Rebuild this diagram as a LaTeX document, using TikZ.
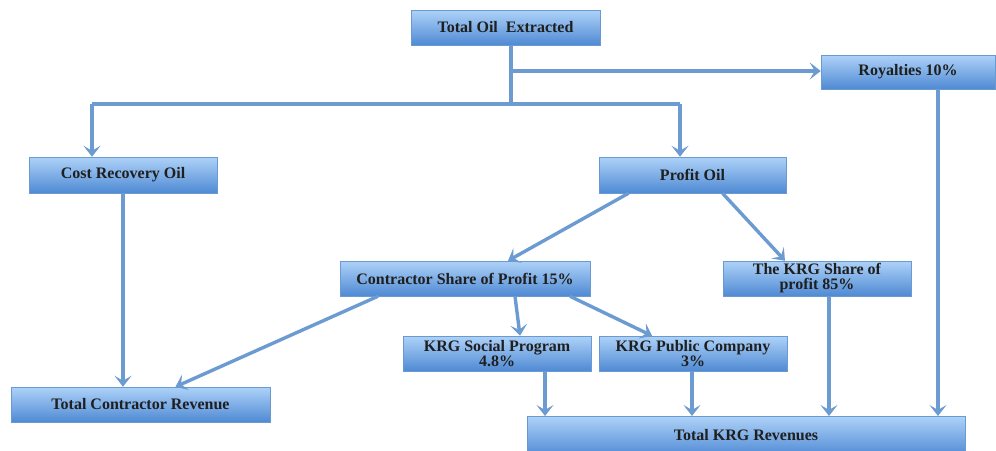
\documentclass[tikz,border=0pt]{standalone}
\usepackage{fontspec}
\setmainfont{Liberation Serif}
\usetikzlibrary{arrows.meta,shadows}
\definecolor{boxtop}{HTML}{AED2F8}
\definecolor{boxbot}{HTML}{4F8AD4}
\definecolor{boxline}{HTML}{6A9AD2}
\definecolor{conn}{HTML}{6B9BD1}
\tikzset{
  boxfont/.style={font=\fontsize{16}{15}\selectfont\bfseries, text=black!88},
  box/.style={draw=boxline, line width=0.5pt, top color=boxtop, bottom color=boxbot,
    drop shadow={shadow xshift=1.2pt, shadow yshift=-1.2pt, opacity=0.35},
    inner sep=0pt, boxfont, align=center},
  conn/.style={draw=conn, line width=3.4pt},
  arr/.style={conn, -{Stealth[length=11pt,width=17pt,inset=5pt]}},
}
\begin{document}
\begin{tikzpicture}[x=1pt,y=-1pt]
\useasboundingbox (0,0) rectangle (996,450);
\clip (0,0) rectangle (996,450);
% boxes
\node[box, minimum width=189pt, minimum height=35pt] (toe) at (505.5,27.5) {Total Oil\ \ Extracted};
\node[box, minimum width=174pt, minimum height=34pt] (roy) at (908,72) {Royalties 10\%};
\node[box, minimum width=188pt, minimum height=36pt] (cro) at (123,175) {Cost Recovery Oil};
\node[box, minimum width=187pt, minimum height=36pt] (po) at (692.5,175) {Profit Oil};
\node[box, minimum width=250pt, minimum height=35pt] (csp) at (465,278.5) {Contractor Share of Profit 15\%};
\node[box, minimum width=188pt, minimum height=35pt] (ksp) at (817,278.5) {The KRG Share of\\profit 85\%};
\node[box, minimum width=188pt, minimum height=35pt] (ksoc) at (497,353.5) {KRG Social Program\\4.8\%};
\node[box, minimum width=188pt, minimum height=35pt] (kpub) at (693,353.5) {KRG Public Company\\3\%};
\node[box, minimum width=259pt, minimum height=35pt] (tcr) at (140.5,404.5) {Total Contractor Revenue};
\node[box, minimum width=438pt, minimum height=40pt, anchor=north west] (tkr) at (527,416) {};
\node[boxfont] (tkrl) at (746,435.5) {Total KRG Revenues};
% connectors from Total Oil
\coordinate (split) at (511,104);
\coordinate (splitL) at (92,104);
\coordinate (splitR) at (680,104);
\coordinate (royj) at (511,71);
\draw[conn] (toe.south -| split) -- (split);
\draw[conn] (splitL) -- (splitR);
\draw[arr] (splitL) -- (splitL |- cro.north);
\draw[arr] (splitR) -- (splitR |- po.north);
\draw[arr] (royj) -- (royj -| roy.west);
% Royalties down
\draw[arr] ([xshift=30pt]roy.south) -- ([xshift=30pt]roy.south |- tkr.north);
% Cost recovery down
\draw[arr] (cro.south) -- (cro.south |- tcr.north);
% Profit Oil split
\draw[arr] ([xshift=-64pt]po.south) -- ([xshift=43pt]csp.north);
\draw[arr] ([xshift=30pt]po.south) -- ([xshift=-32pt]ksp.north);
% Contractor share splits
\draw[arr] ([xshift=-87pt]csp.south) -- ([xshift=35pt]tcr.north);
\draw[arr] ([xshift=50pt]csp.south) -- ([xshift=23pt]ksoc.north);
\draw[arr] ([xshift=105pt]csp.south) -- ([xshift=-41pt]kpub.north);
% down to Total KRG
\draw[arr] ([xshift=48pt]ksoc.south) -- ([xshift=48pt]ksoc.south |- tkr.north);
\draw[arr] ([xshift=-1pt]kpub.south) -- ([xshift=-1pt]kpub.south |- tkr.north);
\draw[arr] ([xshift=12pt]ksp.south) -- ([xshift=12pt]ksp.south |- tkr.north);
\end{tikzpicture}
\end{document}
